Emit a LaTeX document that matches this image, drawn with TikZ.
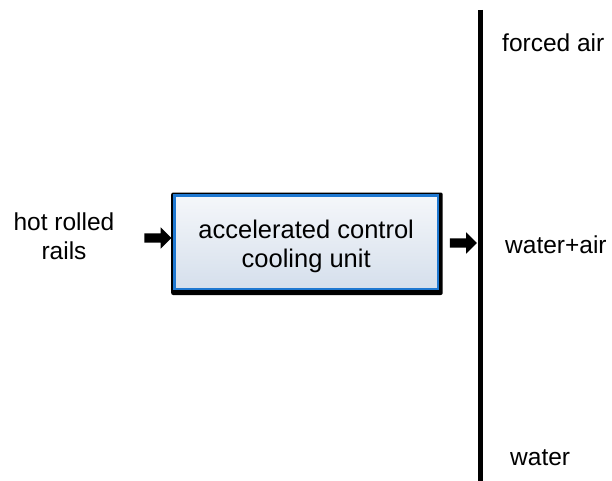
\documentclass[tikz,border=0pt]{standalone}
\usepackage{fontspec}
\setmainfont{Liberation Sans}
\usetikzlibrary{shapes.arrows,backgrounds}
\definecolor{unitblue}{HTML}{1F78D1}
\definecolor{unittop}{HTML}{F5F7FA}
\definecolor{unitbottom}{HTML}{D5DFEC}
\tikzset{
  lbl/.style={font=\fontsize{24.5}{29}\selectfont, inner sep=0pt, align=center},
  blockarrow/.style={single arrow, fill=black, draw=none, inner xsep=0pt,
    inner ysep=4.5pt, minimum height=27pt, single arrow head extend=6pt},
  unitbox/.style={draw=unitblue, line width=2.5pt, top color=unittop,
    bottom color=unitbottom, minimum width=263.5pt, minimum height=93.5pt,
    inner sep=0pt},
  unittext/.style={inner sep=0pt, align=center, font=\fontsize{25.5}{29}\selectfont},
  barline/.style={line width=5pt}
}
\begin{document}
\begin{tikzpicture}[x=1pt,y=-1pt]
  \useasboundingbox (0,0) rectangle (612,481);
  % cooling unit with its dark backing frame
  \node[unitbox] (unit) at (306.2,242) {};
  \begin{scope}[on background layer]
    \fill[black, rounded corners=2pt]
      ([shift={(-2,5)}]unit.south west) rectangle ([shift={(3.5,-1.5)}]unit.north east);
  \end{scope}
  \node[unittext] (unitlabel) at ([yshift=-4pt]unit.center) {accelerated control\\cooling unit};
  % input label and arrow
  \node[lbl] (rails) at (64,236) {hot rolled\\rails};
  \node[blockarrow] (inarrow) at (155.5,238) {};
  % output arrow and the bar of cooling modes
  \node[blockarrow] (outarrow) at (461,243) {};
  \coordinate (bartop) at (480.5,10);
  \coordinate (barbot) at (480.5,481);
  \draw[barline] (bartop) -- (barbot);
  % cooling modes
  \node[lbl, anchor=base west] (forced) at (502,52) {forced air};
  \node[lbl, anchor=base west] (mixed) at (505,253) {water+air};
  \node[lbl, anchor=base west] (water) at (510,465) {water};
\end{tikzpicture}
\end{document}
